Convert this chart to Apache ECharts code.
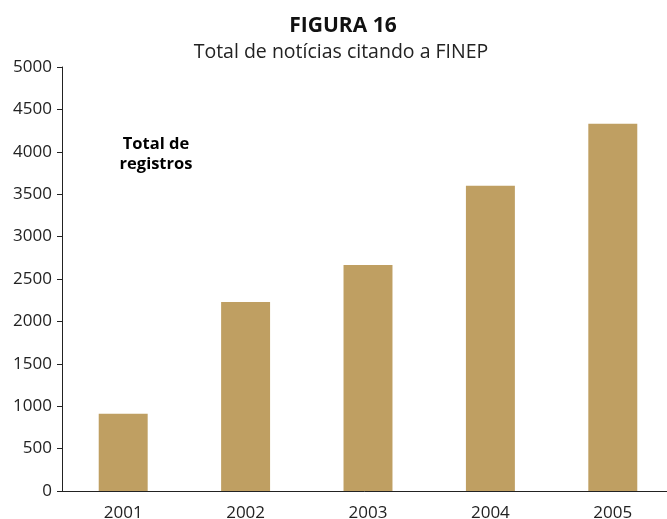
<!DOCTYPE html>
<html>
<head>
<meta charset="utf-8">
<script src="https://cdn.jsdelivr.net/npm/echarts@6/dist/echarts.min.js"></script>
<style>
  html, body { margin: 0; padding: 0; background: #fff; }
  #main { width: 667px; height: 519px; }
</style>
</head>
<body>
<div id="main"></div>
<script>
const years = ['2001', '2002', '2003', '2004', '2005'];
const registros = [910, 2230, 2665, 3600, 4330];
const yTicks = [0, 500, 1000, 1500, 2000, 2500, 3000, 3500, 4000, 4500, 5000];

const font = '"Open Sans", "Noto Sans", sans-serif';
const chart = echarts.init(document.getElementById('main'));

chart.setOption({
  animation: false,
  backgroundColor: '#fff',
  title: [{
    text: 'FIGURA 16',
    left: 338,
    textAlign: 'center',
    top: 11,
    textStyle: { fontFamily: font, fontSize: 21, fontWeight: 'bold', color: '#111' }
  }, {
    text: 'Total de notícias citando a FINEP',
    left: 336,
    textAlign: 'center',
    top: 37,
    textStyle: { fontFamily: font, fontSize: 19.5, fontWeight: 'normal', color: '#222' }
  }],
  graphic: [{
    type: 'text',
    x: 156,
    y: 134,
    style: {
      text: 'Total de\nregistros',
      font: 'bold 16.5px ' + font,
      fill: '#000',
      align: 'center',
      lineHeight: 20
    }
  }],
  grid: { left: 62, top: 67, width: 612, bottom: 28, outerBoundsMode: 'none', containLabel: false },
  xAxis: {
    type: 'category',
    data: years,
    axisLine: { lineStyle: { color: '#222', width: 1 } },
    axisTick: { length: 4, lineStyle: { color: '#222' } },
    axisLabel: { fontFamily: font, fontSize: 17, color: '#222', margin: 14 }
  },
  yAxis: {
    type: 'value',
    min: yTicks[0],
    max: yTicks[yTicks.length - 1],
    interval: 500,
    splitLine: { show: false },
    axisLine: { show: true, lineStyle: { color: '#222', width: 1 } },
    axisTick: { show: true, length: 5, lineStyle: { color: '#222' } },
    axisLabel: { fontFamily: font, fontSize: 17, color: '#222', margin: 10, formatter: v => String(v) }
  },
  series: [{
    type: 'bar',
    data: registros,
    barWidth: '40%',
    itemStyle: { color: '#bf9f62' }
  }]
});
</script>
</body>
</html>
